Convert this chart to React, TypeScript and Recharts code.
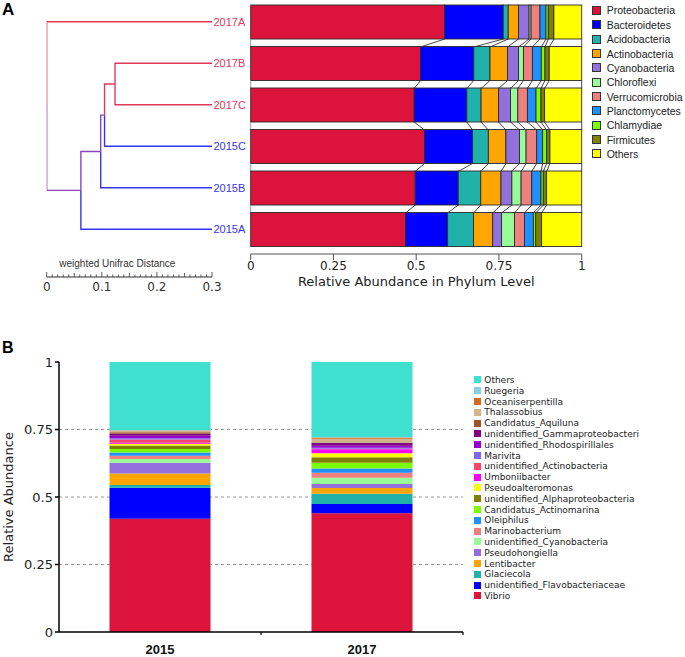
import React from "react";
import {
  Bar,
  BarChart,
  CartesianGrid,
  Legend,
  Line,
  LineChart,
  XAxis,
  YAxis,
} from "recharts";

// ---- panel A: phylum level ----
const samples = ["2017A", "2017B", "2017C", "2015C", "2015B", "2015A"];
const phyla = [
  "Proteobacteria",
  "Bacteroidetes",
  "Acidobacteria",
  "Actinobacteria",
  "Cyanobacteria",
  "Chloroflexi",
  "Verrucomicrobia",
  "Planctomycetes",
  "Chlamydiae",
  "Firmicutes",
  "Others",
];
const phylaColors = [
  "#DC143C",
  "#0000FF",
  "#20B2AA",
  "#FFA500",
  "#9370DB",
  "#98FB98",
  "#F08080",
  "#1E90FF",
  "#7CFC00",
  "#808000",
  "#FFFF00",
];
const phylum2017A = [0.586, 0.177, 0.015, 0.031, 0.032, 0.006, 0.027, 0.018, 0.007, 0.017, 0.084];
const phylum2017B = [0.513, 0.161, 0.049, 0.053, 0.033, 0.015, 0.027, 0.027, 0.011, 0.013, 0.098];
const phylum2017C = [0.494, 0.159, 0.043, 0.053, 0.036, 0.022, 0.029, 0.026, 0.015, 0.011, 0.112];
const phylum2015C = [0.525, 0.145, 0.048, 0.053, 0.041, 0.02, 0.032, 0.018, 0.012, 0.01, 0.096];
const phylum2015B = [0.497, 0.13, 0.068, 0.061, 0.033, 0.028, 0.032, 0.028, 0.007, 0.01, 0.106];
const phylum2015A = [0.468, 0.127, 0.078, 0.058, 0.027, 0.039, 0.03, 0.027, 0.007, 0.018, 0.121];
const phylumRows = [phylum2017A, phylum2017B, phylum2017C, phylum2015C, phylum2015B, phylum2015A];
const phylumTicks = [0, 0.25, 0.5, 0.75, 1];

// dendrogram (weighted Unifrac)
const treeNodes = [
  { id: "N1", children: ["2017B", "2017C"], dist: 0.124 },
  { id: "N2", children: ["N1", "2015C"], dist: 0.105 },
  { id: "N3", children: ["N2", "2015B"], dist: 0.098 },
  { id: "N4", children: ["N3", "2015A"], dist: 0.062 },
  { id: "root", children: ["2017A", "N4"], dist: 0 },
];
const leafDist = 0.3;
const RED = "#E2385A";
const BLUE = "#3535F2";
const PURPLE = "#8A44C6";
const branchColors: Record<string, string> = {
  "2017A": RED,
  "2017B": RED,
  "2017C": RED,
  N1: RED,
  "2015C": BLUE,
  "2015B": BLUE,
  "2015A": BLUE,
  N2: PURPLE,
  N3: PURPLE,
  N4: PURPLE,
};
const distTicks = [0, 0.1, 0.2, 0.3];

// ---- panel B: genus level ----
const years = ["2015", "2017"];
const genera = [
  "Vibrio",
  "unidentified_Flavobacteriaceae",
  "Glaciecola",
  "Lentibacter",
  "Pseudohongiella",
  "unidentified_Cyanobacteria",
  "Marinobacterium",
  "Oleiphilus",
  "Candidatus_Actinomarina",
  "unidentified_Alphaproteobacteria",
  "Pseudoalteromonas",
  "Umboniibacter",
  "unidentified_Actinobacteria",
  "Marivita",
  "unidentified_Rhodospirillales",
  "unidentified_Gammaproteobacteri",
  "Candidatus_Aquiluna",
  "Thalassobius",
  "Oceaniserpentilla",
  "Ruegeria",
  "Others",
];
const genusColors = [
  "#DC143C",
  "#0000FF",
  "#20B2AA",
  "#FFA500",
  "#9370DB",
  "#98FB98",
  "#F08080",
  "#1E90FF",
  "#7CFC00",
  "#808000",
  "#FFFF00",
  "#FF00FF",
  "#F5456D",
  "#7B68EE",
  "#9400D3",
  "#800080",
  "#A0522D",
  "#D2B48C",
  "#D2691E",
  "#87CEEB",
  "#40E0D0",
];
const genus2015 = [0.419, 0.115, 0.01, 0.043, 0.04, 0.014, 0.012, 0.012, 0.013, 0.013, 0.006, 0.004, 0.012, 0.005, 0.009, 0.007, 0.006, 0.004, 0.002, 0.002, 0.252];
const genus2017 = [0.44, 0.034, 0.038, 0.021, 0.015, 0.023, 0.019, 0.016, 0.021, 0.02, 0.015, 0.015, 0.002, 0.003, 0.008, 0.01, 0.002, 0.014, 0.004, 0.001, 0.279];
const abundanceTicks = [0, 0.25, 0.5, 0.75, 1];
const gridValues = [0.25, 0.5, 0.75];

// tables for recharts
const dataA = samples.map((s, r) => {
  const row: Record<string, any> = { sample: s };
  phyla.forEach((p, i) => (row[p] = phylumRows[r][i]));
  return row;
});
const dataB = years.map((y, r) => {
  const row: Record<string, any> = { year: y };
  const vals = r === 0 ? genus2015 : genus2017;
  genera.forEach((g, i) => (row[g] = vals[i]));
  return row;
});

// tree layout: leaf rows by sample order, inner nodes at mean of children
const nodePos: Record<string, { x: number; y: number }> = {};
samples.forEach((s, i) => (nodePos[s] = { x: leafDist, y: i }));
treeNodes.forEach((n) => {
  const ys = n.children.map((c) => nodePos[c].y);
  nodePos[n.id] = { x: n.dist, y: (ys[0] + ys[1]) / 2 };
});
const branches = treeNodes.flatMap((n) =>
  n.children.map((c) => ({
    id: `${n.id}-${c}`,
    color: branchColors[c],
    data: [nodePos[n.id], nodePos[c]],
  }))
);
const distAxisTicks = Array.from({ length: 31 }, (_, i) => i / 100);

const BAR_GAP_A = 4;

// bar segment with connector to the same boundary in the next row
const SegmentShape = (props: any) => {
  const { x, y, width, height, fill, index, payload, phylumIdx } = props;
  const key = phyla[phylumIdx];
  const value = payload[key];
  let start = 0;
  for (let i = 0; i < phylumIdx; i++) start += payload[phyla[i]];
  const ppu = value > 0 ? width / value : 0;
  const origin = x - start * ppu;
  const next = dataA[index + 1];
  let nextEnd = 0;
  if (next) for (let i = 0; i <= phylumIdx; i++) nextEnd += next[phyla[i]];
  const gap = BAR_GAP_A * 2;
  return (
    <g>
      <rect x={x} y={y} width={width} height={height} fill={fill} stroke="#2b2b2b" strokeWidth={0.9} />
      {next && ppu > 0 && (
        <line
          x1={x + width}
          y1={y + height}
          x2={origin + nextEnd * ppu}
          y2={y + height + gap}
          stroke="#333"
          strokeWidth={0.9}
        />
      )}
      {next && phylumIdx === 0 && ppu > 0 && (
        <line x1={origin} y1={y + height} x2={origin} y2={y + height + gap} stroke="#999" strokeWidth={1} />
      )}
    </g>
  );
};

const DistTick = (props: any) => {
  const { x, y, payload } = props;
  const v = payload.value;
  const major = Math.abs(v * 10 - Math.round(v * 10)) < 1e-6;
  const mid = !major && Math.abs(v * 20 - Math.round(v * 20)) < 1e-6;
  const len = major ? 5 : mid ? 4 : 2.5;
  return (
    <g>
      <line x1={x} y1={y} x2={x} y2={y - len} stroke="#333" strokeWidth={0.8} />
      {major && distTicks.some((t) => Math.abs(t - v) < 1e-6) && (
        <text x={x} y={y + 14} textAnchor="middle" fontSize={12} fontFamily="DejaVu Sans" fill="#333">
          {String(Math.round(v * 10) / 10)}
        </text>
      )}
    </g>
  );
};

const LeafTick = (props: any) => {
  const { x, y, payload } = props;
  const name = samples[payload.value];
  return (
    <text x={x} y={y} dy={4} textAnchor="start" fontSize={11} fontFamily="Liberation Sans, Arial" fill={branchColors[name]}>
      {name}
    </text>
  );
};

// year label plus a small tick at the right edge of each band
const YearTick = (props: any) => {
  const { x, y, payload } = props;
  const edge = x + (payload.offset || 0);
  return (
    <g>
      <line x1={edge} y1={y - 12} x2={edge} y2={y - 9} stroke="#000" strokeWidth={1.2} />
      <text
        x={x}
        y={y}
        dy={10}
        textAnchor="middle"
        fontSize={13}
        fontWeight="bold"
        fontFamily="Liberation Sans, Arial"
        fill="#111"
      >
        {payload.value}
      </text>
    </g>
  );
};

const LegendA = () => (
  <div style={{ fontFamily: "Liberation Sans, Arial", fontSize: 10.5, color: "#222" }}>
    {phyla.map((p, i) => (
      <div key={p} style={{ display: "flex", alignItems: "center", height: 14.35 }}>
        <span
          style={{
            display: "inline-block",
            width: 9,
            height: 9,
            background: phylaColors[i],
            border: "1px solid #333",
            boxSizing: "border-box",
            marginRight: 6,
          }}
        />
        {p}
      </div>
    ))}
  </div>
);

const LegendB = () => (
  <div style={{ fontFamily: "DejaVu Sans", fontSize: 9, color: "#222" }}>
    {genera
      .map((g, i) => ({ g, c: genusColors[i] }))
      .reverse()
      .map(({ g, c }) => (
        <div key={g} style={{ display: "flex", alignItems: "center", height: 10.8, whiteSpace: "nowrap" }}>
          <span style={{ display: "inline-block", width: 7, height: 7, background: c, marginRight: 3 }} />
          {g}
        </div>
      ))}
  </div>
);

const App = () => {
  return (
    <div style={{ position: "absolute", left: 0, top: 0, width: 685, height: 657, background: "#fff", overflow: "hidden" }}>
      <div
        style={{
          position: "absolute",
          left: 2,
          top: 2,
          lineHeight: "15px",
          fontFamily: "Liberation Sans, Arial",
          fontWeight: "bold",
          fontSize: 17,
        }}
      >
        A
      </div>
      <div
        style={{
          position: "absolute",
          left: 2,
          top: 340,
          lineHeight: "15px",
          fontFamily: "Liberation Sans, Arial",
          fontWeight: "bold",
          fontSize: 16,
        }}
      >
        B
      </div>

      {/* dendrogram */}
      <div style={{ position: "absolute", left: 0, top: 0 }}>
        <LineChart width={250} height={300} margin={{ top: 1, right: 0, bottom: 0, left: 46.7 }}>
          <XAxis
            type="number"
            dataKey="x"
            domain={[0, 0.3]}
            allowDataOverflow
            ticks={distAxisTicks}
            interval={0}
            tickSize={0}
            tickMargin={0}
            tick={<DistTick />}
            height={23}
            stroke="#333"
            label={{
              value: "weighted Unifrac Distance",
              position: "top",
              offset: 10,
              dx: -12,
              fontSize: 10,
              fontFamily: "Liberation Sans, Arial",
              fill: "#333",
            }}
          />
          <YAxis
            type="number"
            orientation="right"
            domain={[-0.5, 5.5]}
            reversed
            ticks={[0, 1, 2, 3, 4, 5]}
            interval={0}
            width={38}
            axisLine={false}
            tickLine={false}
            tickSize={0}
            tickMargin={1.5}
            padding={{ top: 0, bottom: 27 }}
            tick={<LeafTick />}
          />
          {branches.map((b) => (
            <Line
              key={b.id}
              data={b.data}
              dataKey="y"
              type="stepBefore"
              stroke={b.color}
              strokeWidth={1.4}
              dot={false}
              activeDot={false}
              isAnimationActive={false}
            />
          ))}
        </LineChart>
      </div>

      {/* phylum bars */}
      <div style={{ position: "absolute", left: 240, top: 0 }}>
        <BarChart
          width={445}
          height={295}
          data={dataA}
          layout="vertical"
          barCategoryGap={BAR_GAP_A}
          margin={{ top: 1, right: 103.3, bottom: 0, left: 10.7 }}
        >
          <XAxis
            type="number"
            domain={[0, 1]}
            ticks={phylumTicks}
            tickFormatter={(v: number) => String(v)}
            height={41}
            stroke="#555"
            tickSize={6}
            tickMargin={1}
            tick={{ fontSize: 12, fontFamily: "DejaVu Sans", fill: "#222" }}
            label={{
              value: "Relative Abundance in Phylum Level",
              position: "insideBottom",
              offset: 9,
              fontSize: 13,
              fontFamily: "DejaVu Sans",
              fill: "#222",
            }}
          />
          <YAxis type="category" dataKey="sample" hide padding={{ top: 0, bottom: 4 }} />
          {phyla.map((p, i) => (
            <Bar
              key={p}
              dataKey={p}
              stackId="a"
              fill={phylaColors[i]}
              isAnimationActive={false}
              shape={(props: any) => <SegmentShape {...props} phylumIdx={i} />}
            />
          ))}
          <Legend
            layout="vertical"
            align="center"
            verticalAlign="middle"
            content={<LegendA />}
            wrapperStyle={{ left: 351.7, top: 3.3, width: 95 }}
          />
        </BarChart>
      </div>

      {/* genus bars */}
      <div style={{ position: "absolute", left: 0, top: 330 }}>
        <BarChart
          width={685}
          height={327}
          data={dataB}
          barCategoryGap="25%"
          margin={{ top: 32, right: 222, bottom: 0, left: 0 }}
        >
          <CartesianGrid vertical={false} horizontalValues={gridValues} strokeDasharray="3 3" stroke="#999" />
          <XAxis
            dataKey="year"
            height={25}
            axisLine={{ stroke: "#000", strokeWidth: 1.5 }}
            tickLine={false}
            tickSize={0}
            tickMargin={12}
            tick={<YearTick />}
          />
          <YAxis
            domain={[0, 1]}
            ticks={abundanceTicks}
            tickFormatter={(v: number) => String(v)}
            width={59}
            axisLine={{ stroke: "#000", strokeWidth: 1.5 }}
            tickLine={{ stroke: "#000", strokeWidth: 1.5 }}
            tickSize={4}
            tickMargin={2}
            tick={{ fontSize: 13, fontFamily: "DejaVu Sans", fill: "#222" }}
            label={{
              value: "Relative Abundance",
              angle: -90,
              position: "insideLeft",
              offset: 8,
              style: { textAnchor: "middle" },
              fontSize: 13,
              fontFamily: "DejaVu Sans",
              fill: "#222",
            }}
          />
          {genera.map((g, i) => (
            <Bar key={g} dataKey={g} stackId="b" fill={genusColors[i]} isAnimationActive={false} />
          ))}
          <Legend
            layout="vertical"
            align="center"
            verticalAlign="middle"
            content={<LegendB />}
            wrapperStyle={{ left: 474.3, top: 44.6, width: 210 }}
          />
        </BarChart>
      </div>
    </div>
  );
};

export default App;
